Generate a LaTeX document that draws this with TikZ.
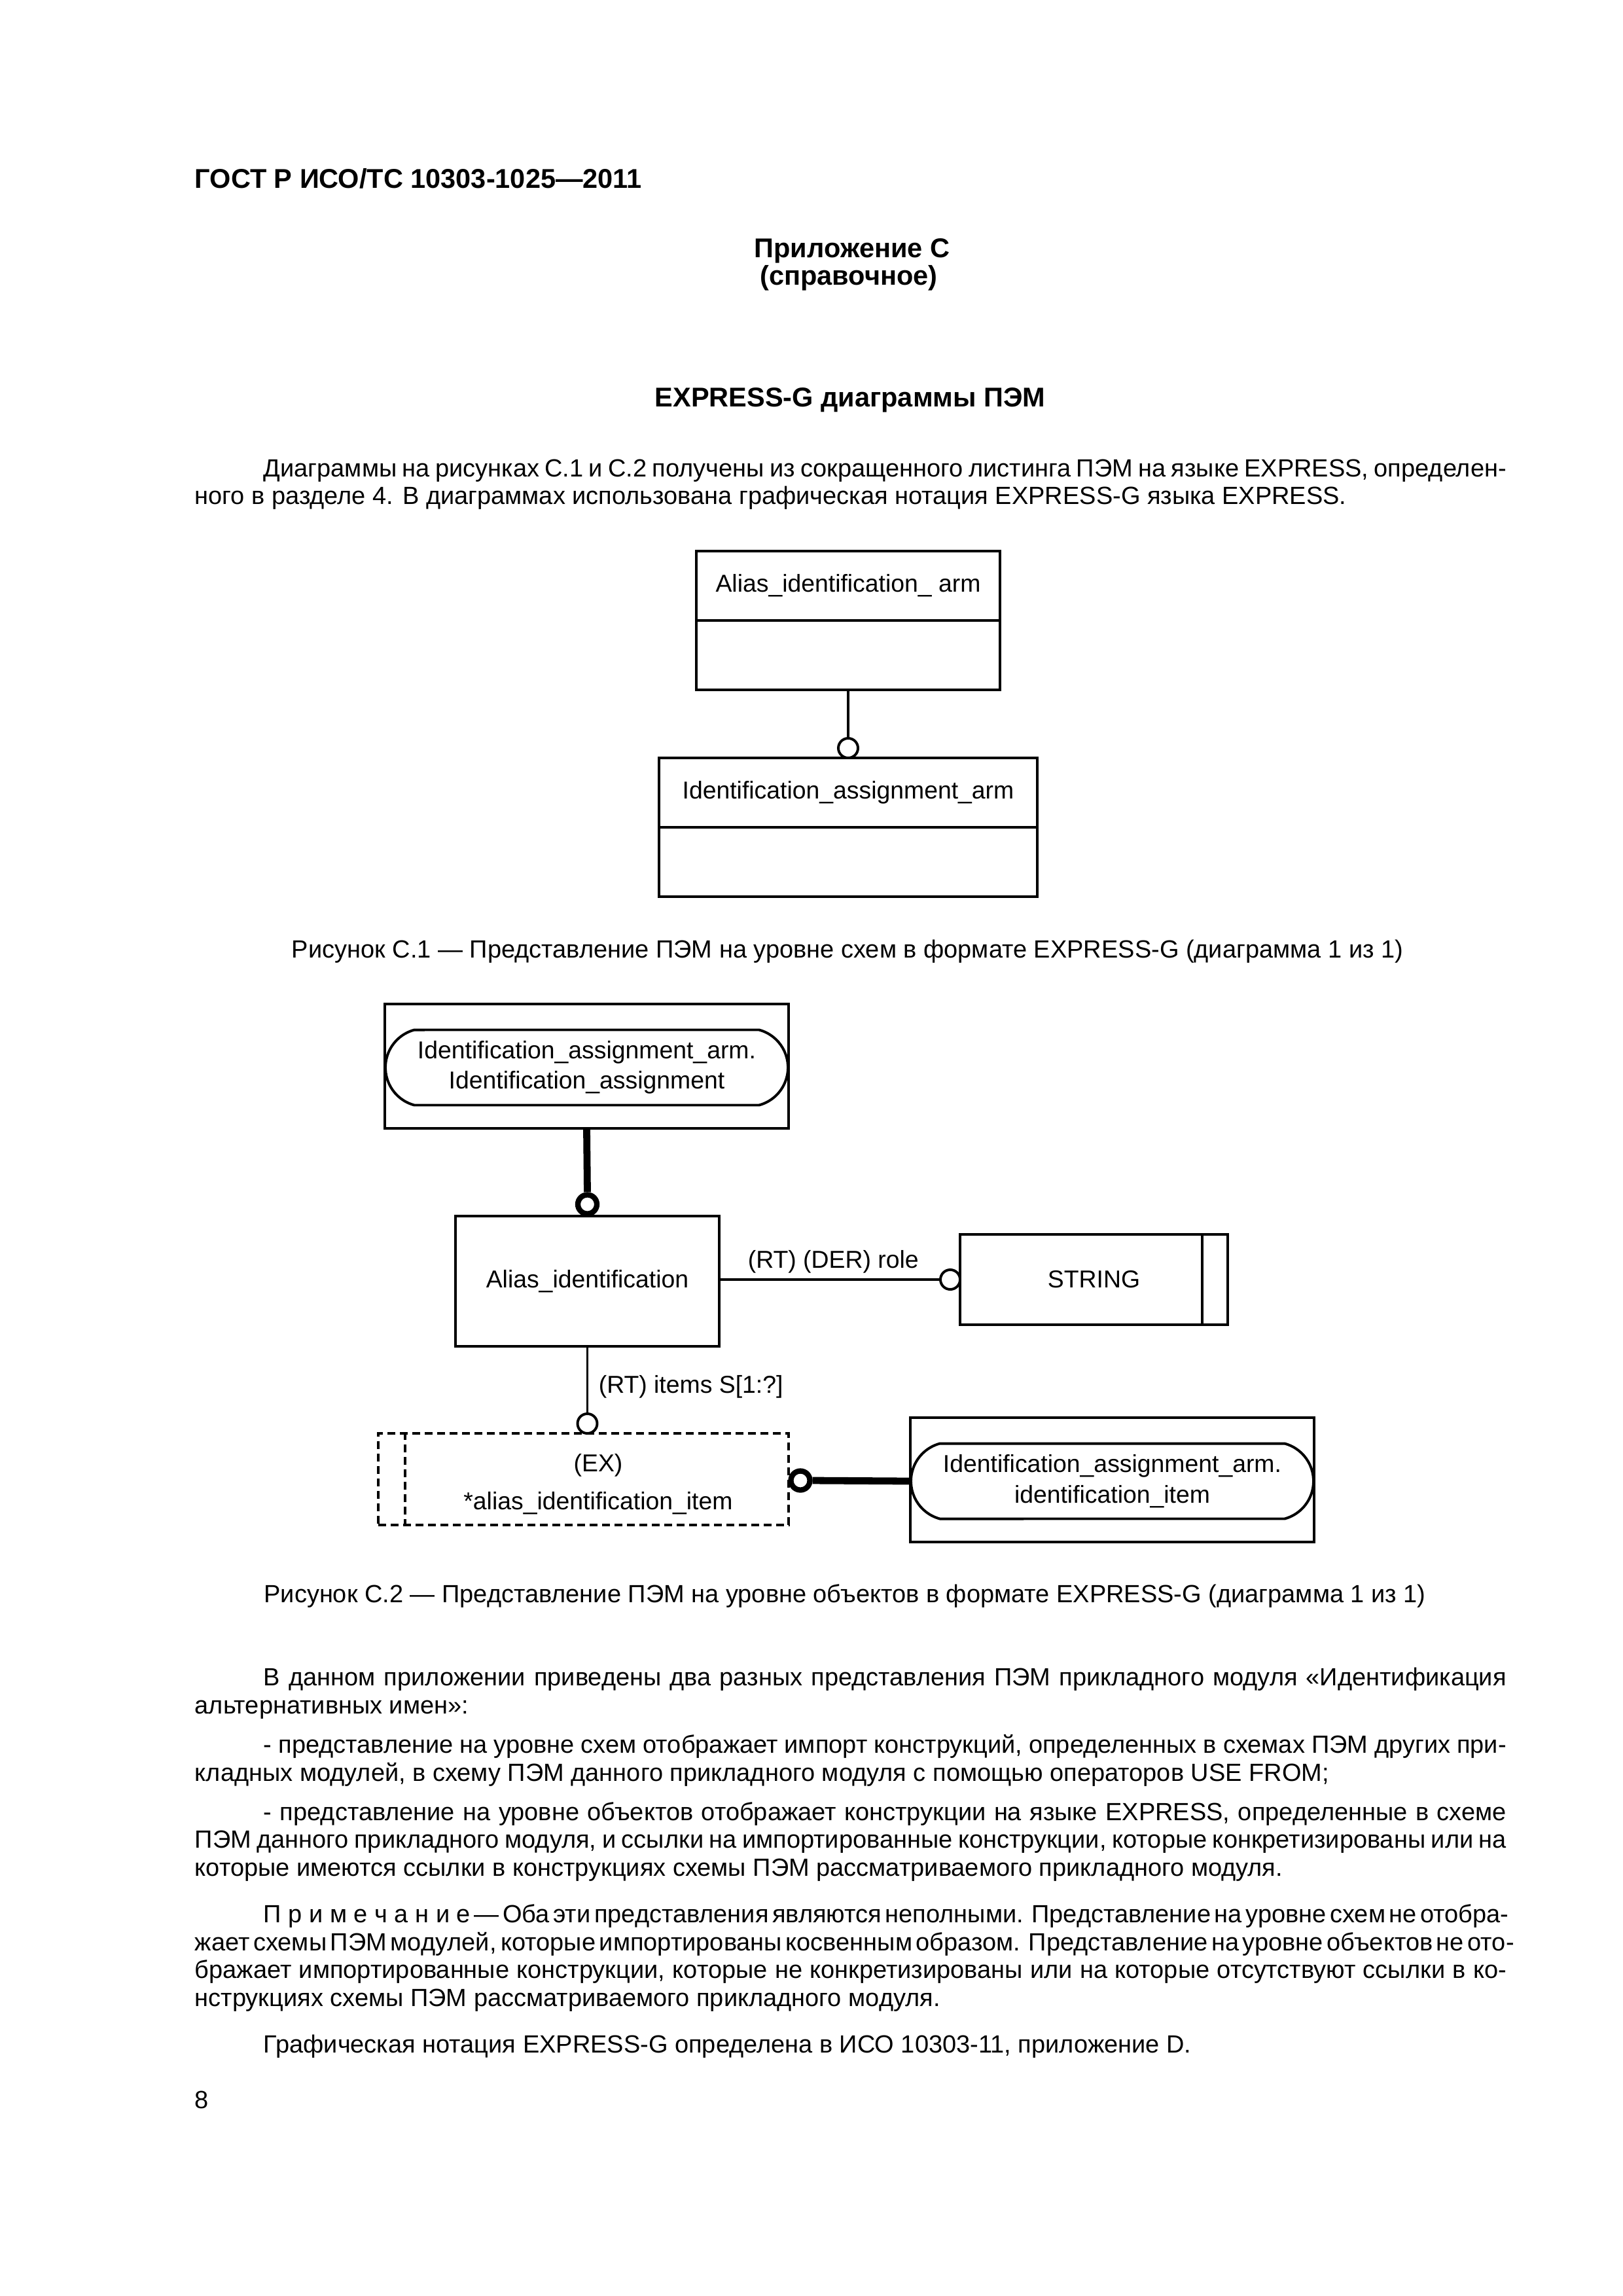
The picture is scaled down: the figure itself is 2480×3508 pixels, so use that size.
\documentclass[tikz,border=0pt]{standalone}
\usepackage{fontspec}
\setmainfont{Liberation Sans}
\usetikzlibrary{shapes.misc,calc}
\newlength\pxu \setlength\pxu{0.0846774mm}
\newlength\fullw \setlength\fullw{2004\pxu}
\newlength\indw \setlength\indw{1899\pxu}
\newcommand\jfull[1]{{\spaceskip=0.278em plus 0.6em minus 0.13em\makebox[\fullw][s]{#1}}}
\newcommand\jind[1]{{\spaceskip=0.278em plus 0.6em minus 0.13em\makebox[\indw][s]{#1}}}
\tikzset{
  ln/.style={line width=0.95pt},
  thk/.style={line width=2.6pt},
  ebox/.style={draw, rectangle, line width=0.95pt, inner sep=0pt},
  dfont/.style={font=\fontsize{9pt}{11.2pt}\selectfont},
  ocirc/.style={circle, draw, fill=white, line width=0.95pt, inner sep=0pt, minimum size=30\pxu},
  tcirc/.style={circle, draw, fill=white, line width=2pt, inner sep=0pt, minimum size=29\pxu},
  rrect/.style={rounded rectangle, rounded rectangle arc length=150, draw, line width=0.95pt,
    inner sep=0pt, minimum width=615\pxu, minimum height=115\pxu, align=center, dfont},
  body/.style={font=\fontsize{9.15pt}{11pt}\selectfont, inner sep=0pt, anchor=base west},
  bodyc/.style={font=\fontsize{9.15pt}{11pt}\selectfont, inner sep=0pt, anchor=base},
  hdr/.style={font=\fontsize{10pt}{12pt}\selectfont\bfseries, inner sep=0pt, anchor=base},
  dlabel/.style={dfont, inner sep=0pt, anchor=base west}
}
\begin{document}
\begin{tikzpicture}[x={(0.0846774mm,0)}, y={(0,-0.0846774mm)}]
\fill[white] (0,0) rectangle (2480,3508);
\path[use as bounding box] (0,0) rectangle (2480,3508);

% ---------- header and title ----------
\node[hdr, anchor=base west] (hd) at (297,287) {ГОСТ Р ИСО/ТС 10303-1025—2011};
\node[hdr] (ap1) at (1302,393) {Приложение С};
\node[hdr] (ap2) at (1297,435) {(справочное)};
\node[hdr] (ttl) at (1299,621) {EXPRESS-G диаграммы ПЭМ};

\node[body] (p1a) at (402,728) {\jind{Диаграммы на рисунках С.1 и С.2 получены из сокращенного листинга ПЭМ на языке EXPRESS, определен-}};
\node[body] (p1b) at (297,770) {ного в разделе 4. В диаграммах использована графическая нотация EXPRESS-G языка EXPRESS.};

% ---------- Figure C.1 ----------
\node[ebox, minimum width=464\pxu, minimum height=212\pxu] (b1) at (1296,948) {};
\draw[ln] (b1.west) -- (b1.east);
\node[dfont, inner sep=0pt] (t1) at (1296,895) {Alias\_identification\_ arm};
\node[ebox, minimum width=578\pxu, minimum height=212\pxu] (b2) at (1296,1264) {};
\draw[ln] (b2.west) -- (b2.east);
\node[dfont, inner sep=0pt] (t2) at (1296,1211) {Identification\_assignment\_arm};
\node[ocirc] (c1) at (1296,1143) {};
\draw[ln] (b1.south) -- (c1.north);

\node[bodyc] (cap1) at (1295,1463) {Рисунок С.1 — Представление ПЭМ на уровне схем в формате EXPRESS-G (диаграмма 1 из 1)};

% ---------- Figure C.2 ----------
\node[ebox, minimum width=617\pxu, minimum height=190\pxu] (ob1) at (896.5,1629) {};
\node[rrect] (rr1) at (896.5,1631) {Identification\_assignment\_arm.\\Identification\_assignment};

\node[ebox, minimum width=403\pxu, minimum height=199\pxu, dfont] (a1) at (897.5,1957.5) {Alias\_identification};
\node[tcirc] (c2) at (897.5,1840) {};
\draw[thk] (ob1.south) -- (c2.north);

\node[ebox, minimum width=409\pxu, minimum height=138\pxu, dfont] (s1) at (1671.5,1955) {STRING};
\draw[ln] ($(s1.north east)+(-41,0)$) -- ($(s1.south east)+(-41,0)$);
\node[ocirc] (c3) at (1452,1955) {};
\draw[ln] (a1.east |- c3.west) -- (c3.west);
\node[dlabel] (l1) at (1142,1937) {(RT) (DER) role};

\node[ebox, dash pattern=on 12\pxu off 7\pxu, minimum width=627\pxu, minimum height=140\pxu] (e1) at (891.5,2260) {};
\draw[ln, dash pattern=on 12\pxu off 7\pxu] ($(e1.north west)+(43,0)$) -- ($(e1.south west)+(43,0)$);
\node[inner sep=0pt, align=center, font=\fontsize{9pt}{14pt}\selectfont] (t3) at (914,2268) {(EX)\\*alias\_identification\_item};
\node[ocirc] (c4) at (897.5,2175) {};
\draw[ln] (a1.south) -- (c4.north);
\node[dlabel] (l2) at (914,2128) {(RT) items S[1:?]};

\node[ebox, minimum width=617\pxu, minimum height=190\pxu] (ob2) at (1699.5,2261) {};
\node[rrect] (rr2) at (1699.5,2263) {Identification\_assignment\_arm.\\identification\_item};
\node[tcirc] (c5) at (1223,2262) {};
\draw[thk] (c5.east) -- (rr2.west);

\node[bodyc] (cap2) at (1291,2448) {Рисунок С.2 — Представление ПЭМ на уровне объектов в формате EXPRESS-G (диаграмма 1 из 1)};

% ---------- text ----------
\node[body] (q1) at (402,2575) {\jind{В данном приложении приведены два разных представления ПЭМ прикладного модуля «Идентификация}};
\node[body] (q2) at (297,2618) {альтернативных имен»:};
\node[body] (q3) at (402,2678) {\jind{- представление на уровне схем отображает импорт конструкций, определенных в схемах ПЭМ других при-}};
\node[body] (q4) at (297,2721) {кладных модулей, в схему ПЭМ данного прикладного модуля с помощью операторов USE FROM;};
\node[body] (q5) at (402,2781) {\jind{- представление на уровне объектов отображает конструкции на языке EXPRESS, определенные в схеме}};
\node[body] (q6) at (297,2823) {\jfull{ПЭМ данного прикладного модуля, и ссылки на импортированные конструкции, которые конкретизированы или на}};
\node[body] (q7) at (297,2866) {которые имеются ссылки в конструкциях схемы ПЭМ рассматриваемого прикладного модуля.};
\node[body] (n1) at (402,2937) {\jind{\mbox{П р и м е ч а н и е} — Оба эти представления являются неполными. Представление на уровне схем не отобра-}};
\node[body] (n2) at (297,2980) {\jfull{жает схемы ПЭМ модулей, которые импортированы косвенным образом. Представление на уровне объектов не ото-}};
\node[body] (n3) at (297,3022) {\jfull{бражает импортированные конструкции, которые не конкретизированы или на которые отсутствуют ссылки в ко-}};
\node[body] (n4) at (297,3065) {нструкциях схемы ПЭМ рассматриваемого прикладного модуля.};
\node[body] (g1) at (402,3136) {Графическая нотация EXPRESS-G определена в ИСО 10303-11, приложение D.};
\node[body] (pg) at (297,3221) {8};
\end{tikzpicture}
\end{document}
